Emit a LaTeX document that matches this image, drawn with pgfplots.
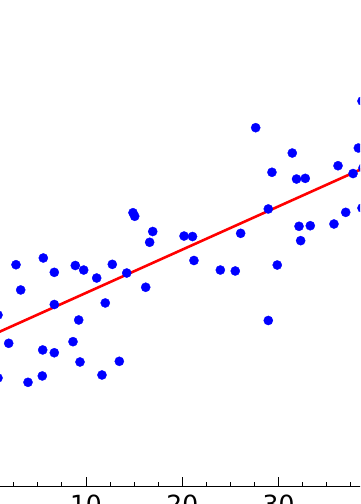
\documentclass[border=0pt]{standalone}
\usepackage{fontspec}
\setmainfont{DejaVu Sans}
\usepackage{pgfplots}
\pgfplotsset{compat=1.18}
\begin{document}
\begin{tikzpicture}
\path[use as bounding box] (0,0) rectangle (360pt,504pt);
\clip (0,0) rectangle (360pt,504pt);
\begin{axis}[
  at={(-58.45pt,17.3pt)}, anchor=south west,
  scale only axis, width=481.5pt, height=529.65pt,
  xmin=-5, xmax=45, ymin=0, ymax=55,
  xtick={0,10,20,30,40}, minor x tick num=3,
  ytick=\empty,
  tick align=inside,
  major tick length=9.3pt, minor tick length=4.7pt,
  every tick/.style={black, line width=1pt},
  axis line style={black, line width=1.3pt},
  /pgf/number format/assume math mode=true,
  xticklabel style={font=\fontsize{25}{30}\selectfont, inner sep=0pt, yshift=-7.7pt},
]
\addplot[only marks, mark=*, mark size=4.6pt, mark options={fill=blue, draw=blue, line width=0.3pt}] table {
x y
0.862 17.83
0.862 11.29
1.973 14.89
2.731 23.05
3.219 20.43
3.977 10.84
5.462 11.50
5.504 14.20
5.566 23.75
6.708 22.26
6.708 18.92
6.708 13.91
8.650 15.06
8.889 22.97
9.242 17.31
9.377 12.95
9.761 22.50
11.11 21.67
11.66 11.60
12.00 19.08
12.73 23.09
13.46 13.02
14.23 22.19
14.88 28.45
15.06 28.08
16.20 20.71
16.61 25.38
16.93 26.50
20.18 26.03
21.06 25.98
21.21 23.49
23.95 22.50
25.50 22.40
26.06 26.31
27.62 37.28
28.93 28.84
28.93 17.26
29.31 32.65
29.86 23.02
31.42 34.65
31.86 31.95
32.12 27.04
32.29 25.55
32.77 32.02
33.29 27.10
35.75 27.28
36.17 33.33
36.97 28.49
37.73 32.52
38.28 35.17
38.66 40.05
38.66 28.94
38.76 33.09
};
\addplot[red, line width=2.6pt] coordinates {(0,15.63) (40,33.61)};
\end{axis}
\end{tikzpicture}
\end{document}
